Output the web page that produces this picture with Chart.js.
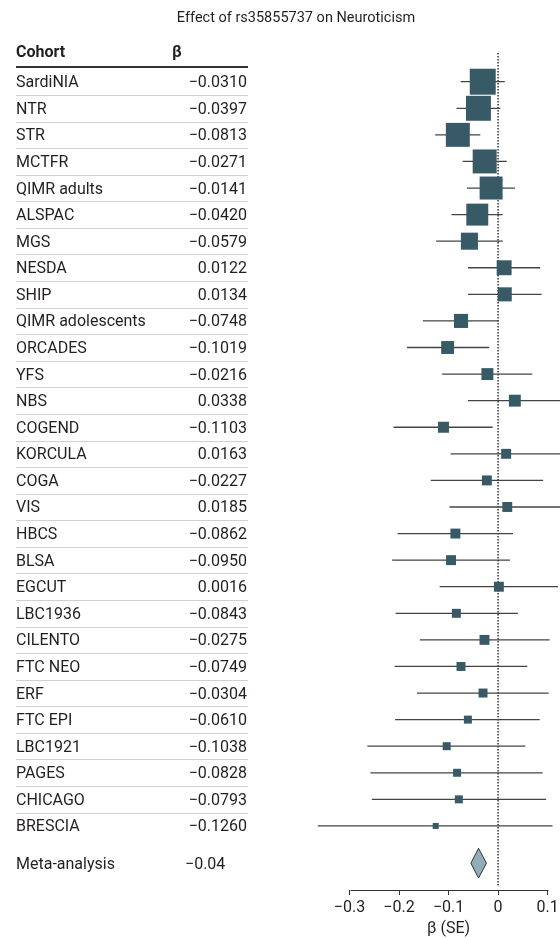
<!DOCTYPE html>
<html><head><meta charset="utf-8">
<script src="https://cdn.jsdelivr.net/npm/chart.js@4.4.1/dist/chart.umd.min.js"></script>
<style>html,body{margin:0;padding:0;background:#fff;} #wrap{position:relative;width:560px;height:938px;}</style>
</head><body><div id="wrap"><canvas id="c" width="560" height="938"></canvas></div>
<script>
const chartTitle = 'Effect of rs35855737 on Neuroticism';
const headers = ['Cohort', 'β'];
const xTitle = 'β (SE)';
const cohorts = ['SardiNIA','NTR','STR','MCTFR','QIMR adults','ALSPAC','MGS','NESDA','SHIP','QIMR adolescents','ORCADES','YFS','NBS','COGEND','KORCULA','COGA','VIS','HBCS','BLSA','EGCUT','LBC1936','CILENTO','FTC NEO','ERF','FTC EPI','LBC1921','PAGES','CHICAGO','BRESCIA'];
const beta = [-0.0310,-0.0397,-0.0813,-0.0271,-0.0141,-0.0420,-0.0579,0.0122,0.0134,-0.0748,-0.1019,-0.0216,0.0338,-0.1103,0.0163,-0.0227,0.0185,-0.0862,-0.0950,0.0016,-0.0843,-0.0275,-0.0749,-0.0304,-0.0610,-0.1038,-0.0828,-0.0793,-0.1260];
const ciLow = [-0.0755,-0.084,-0.127,-0.0715,-0.063,-0.094,-0.125,-0.061,-0.061,-0.152,-0.184,-0.113,-0.061,-0.211,-0.096,-0.136,-0.098,-0.203,-0.214,-0.118,-0.207,-0.158,-0.209,-0.164,-0.208,-0.264,-0.258,-0.255,-0.364];
const ciHigh = [0.0135,0.0046,-0.036,0.0175,0.034,0.009,0.0095,0.085,0.088,0.002,-0.018,0.069,0.128,-0.011,0.128,0.091,0.135,0.030,0.024,0.121,0.040,0.104,0.059,0.102,0.084,0.055,0.090,0.097,0.110];
const weightPct = [10.9,10.1,9.3,9.3,8.55,7.8,4.7,3.6,3.2,3.2,2.7,2.3,2.3,1.96,1.6,1.6,1.6,1.6,1.6,1.6,1.3,1.6,1.3,1.3,1.03,1.03,1.03,1.03,0.58];
const metaLabel = 'Meta-analysis';
const metaText = '−0.04';
const metaEst = -0.0395;
const metaLow = -0.055;
const metaHigh = -0.0235;
const xTicks = [-0.3,-0.2,-0.1,0,0.1];

const FONT = 'Roboto';
const TXT = '#231f20';
const fmt = v => (v < 0 ? '−' : '') + Math.abs(v).toFixed(4);
const metaRow = cohorts.length + 0.4;
const Y_MIN = -1.08, Y_MAX = 30.41;
const diamondHalf = 0.56;
const TXT_DY = 1.5;

const ciData = [];
cohorts.forEach((c, i) => { ciData.push({x: ciLow[i], y: i}, {x: ciHigh[i], y: i}, {x: null, y: null}); });
const pointData = cohorts.map((c, i) => ({x: beta[i], y: i}));
const diamond = [
  {x: metaLow, y: metaRow}, {x: metaEst, y: metaRow - diamondHalf},
  {x: metaHigh, y: metaRow}, {x: metaEst, y: metaRow + diamondHalf}, {x: metaLow, y: metaRow}
];

const decor = {
  id: 'decor',
  afterDraw(chart) {
    const {ctx, scales: {x, y}} = chart;
    ctx.save();
    ctx.fillStyle = TXT;
    ctx.textBaseline = 'middle';
    ctx.font = '14.5px ' + FONT;
    ctx.textAlign = 'center';
    ctx.fillText(chartTitle, 296, 18.5);
    ctx.font = 'bold 16px ' + FONT;
    ctx.textAlign = 'left';
    ctx.fillText(headers[0], 16, y.getPixelForValue(-1.12) + 1);
    ctx.fillText(headers[1], 172, y.getPixelForValue(-1.12) + 1);
    ctx.strokeStyle = '#333';
    ctx.lineWidth = 2;
    let ry = Math.round(y.getPixelForValue(-0.55));
    ctx.beginPath(); ctx.moveTo(16, ry); ctx.lineTo(248, ry); ctx.stroke();
    ctx.strokeStyle = '#d0d0d0';
    ctx.lineWidth = 1;
    for (let i = 0; i < cohorts.length - 1; i++) {
      const sy = Math.round(y.getPixelForValue(i + 0.5)) + 0.5;
      ctx.beginPath(); ctx.moveTo(16, sy); ctx.lineTo(248, sy); ctx.stroke();
    }
    ctx.font = '16px ' + FONT;
    cohorts.forEach((c, i) => {
      const py = y.getPixelForValue(i) + TXT_DY;
      ctx.textAlign = 'left';
      ctx.fillText(c, 16, py);
      ctx.textAlign = 'right';
      ctx.fillText(fmt(beta[i]), 247, py);
    });
    const my = y.getPixelForValue(metaRow) + TXT_DY;
    ctx.textAlign = 'left';
    ctx.fillText(metaLabel, 16, my);
    ctx.fillText(metaText, 185, my);
    const ax0 = x.getPixelForValue(xTicks[0]);
    const ax1 = x.getPixelForValue(xTicks[xTicks.length - 1]);
    const ay = chart.chartArea.bottom + 0.5;
    ctx.strokeStyle = '#333';
    ctx.lineWidth = 1;
    ctx.beginPath(); ctx.moveTo(Math.round(ax0) + 0.5, ay); ctx.lineTo(Math.round(ax1) + 0.5, ay); ctx.stroke();
    ctx.font = '16px ' + FONT;
    ctx.textAlign = 'center';
    ctx.fillText(xTitle, (ax0 + ax1) / 2, 929);
    ctx.restore();
  }
};

new Chart(document.getElementById('c'), {
  type: 'scatter',
  data: {
    datasets: [
      {
        label: 'beta', data: pointData, order: 0,
        pointStyle: 'rect',
        pointRadius: weightPct.map(w => 7.86 * Math.sqrt(w) / Math.SQRT2),
        pointBackgroundColor: '#385966', pointBorderWidth: 0,
        showLine: false
      },
      {
        label: 'meta', data: diamond, order: 1, showLine: true,
        borderColor: '#333', borderWidth: 1, backgroundColor: '#90adb8',
        fill: 'shape', pointRadius: 0, tension: 0
      },
      {
        label: 'ci', data: ciData, order: 2, showLine: true, spanGaps: false,
        borderColor: '#444', borderWidth: 1.3, pointRadius: 0
      },
      {
        label: 'zero', data: [{x: 0, y: Y_MIN}, {x: 0, y: 30.26}], order: 3, showLine: true,
        borderColor: '#333', borderWidth: 1.5, borderDash: [1.5, 1.5], pointRadius: 0
      }
    ]
  },
  options: {
    responsive: false, animation: false, events: [],
    layout: {autoPadding: false, padding: {left: 300, top: 53, right: 0, bottom: 0}},
    plugins: {legend: {display: false}, tooltip: {enabled: false}, title: {display: false}},
    scales: {
      x: {
        type: 'linear', min: -0.40, max: 0.125, position: 'bottom',
        grid: {display: true, drawOnChartArea: false, drawTicks: true, tickLength: 5, color: '#333', lineWidth: 1},
        border: {display: false},
        afterBuildTicks: s => { s.ticks = xTicks.map(v => ({value: v})); },
        afterFit: s => { s.height = 48; s.paddingLeft = 0; s.paddingRight = 0; },
        ticks: {
          autoSkip: false, maxRotation: 0, padding: 3, color: TXT,
          font: {family: FONT, size: 16},
          callback: v => v === 0 ? '0' : (v < 0 ? '−' : '') + Math.abs(v).toFixed(1)
        }
      },
      y: {type: 'linear', reverse: true, min: Y_MIN, max: Y_MAX, display: false}
    }
  },
  plugins: [decor]
});
</script>
</body></html>
